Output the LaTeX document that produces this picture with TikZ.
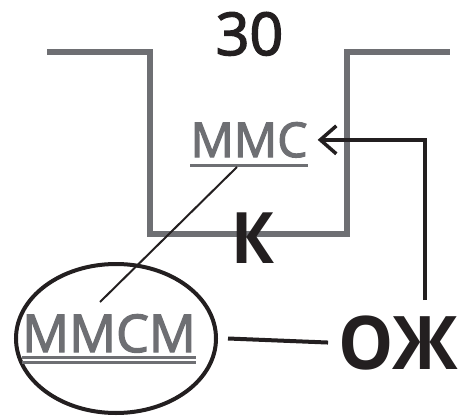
\documentclass[tikz,border=0pt]{standalone}
\usepackage{fontspec}
\setmainfont{Open Sans}
\newfontfamily\medfont{Open Sans}[RawFeature={embolden=2.5}]
\usetikzlibrary{arrows.meta,shapes.geometric}
\definecolor{groovegray}{RGB}{110,111,115}
\definecolor{inkblack}{RGB}{35,31,32}
\begin{document}
\begin{tikzpicture}
[
    x=1pt, y=-1pt,
    groove/.style={draw=groovegray, line width=5.5pt},
    graylabel/.style={text=groovegray, inner sep=0, anchor=base},
    blacklabel/.style={text=inkblack, inner sep=0, anchor=base},
    underbar/.style={draw=groovegray, line width=3pt},
    leader/.style={draw=inkblack, line width=2pt},
    feedline/.style={draw=inkblack, line width=3.5pt, -{Straight Barb[length=16pt, width=28pt]}},
]
\useasboundingbox (0,0) rectangle (460,417);
\draw[groove] (47,52) -- (150,52) -- (150,234) -- (347,234) -- (347,52) -- (450,52);
\node[blacklabel, font=\fontsize{59}{59}\medfont] (depth) at (249.5,55) {30};
\node[graylabel, font=\fontsize{48}{48}\medfont] (mmc) at (249,157) {ММС};
\node[blacklabel, xscale=0.9, font=\fontsize{71}{71}\selectfont\bfseries] (k) at (253,263) {К};
\node[graylabel, font=\fontsize{52}{52}\medfont] (mmcm) at (109,352) {ММСМ};
\node[blacklabel, xscale=0.94, font=\fontsize{74}{74}\selectfont\bfseries] (oz) at (398,369) {ОЖ};
\node[draw=inkblack, line width=4pt, ellipse, inner sep=0, minimum width=200pt, minimum height=149pt] (oval) at (116,338.5) {};
\coordinate (feed) at (425,300);
\draw[underbar] ([yshift=-8pt]mmc.base west) -- ([yshift=-8pt]mmc.base east);
\draw[underbar] ([yshift=-5pt]mmcm.base west) -- ([yshift=-5pt]mmcm.base east);
\draw[underbar] ([yshift=-10pt]mmcm.base west) -- ([yshift=-10pt]mmcm.base east);
\draw[leader] ([shift={(-12,10)}]mmc.base) -- ([shift={(-9,-50)}]mmcm.base);
\draw[leader, line width=4pt] ([xshift=10pt]oval.east) -- ([xshift=-10pt]oz.west);
\draw[feedline] (feed) |- ([xshift=10pt]mmc.east);
\end{tikzpicture}
\end{document}
